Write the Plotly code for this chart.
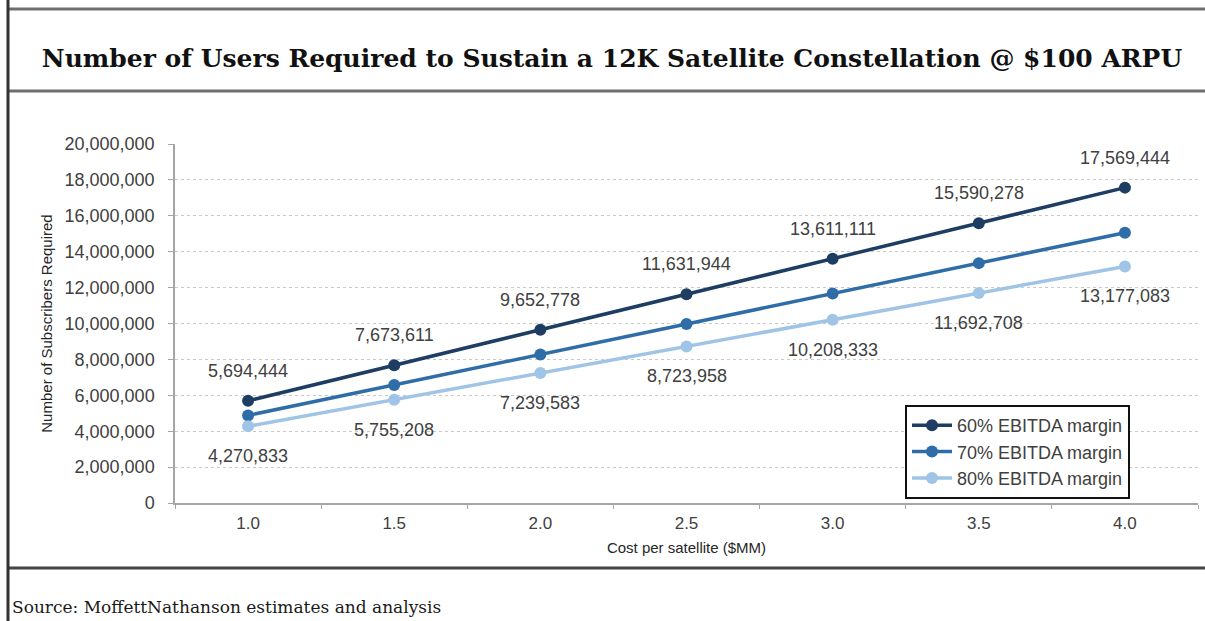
import plotly.graph_objects as go

categories = ["1.0", "1.5", "2.0", "2.5", "3.0", "3.5", "4.0"]
margin60 = [5694444, 7673611, 9652778, 11631944, 13611111, 15590278, 17569444]
margin70 = [4880952, 6577381, 8273810, 9970238, 11666667, 13363095, 15059524]
margin80 = [4270833, 5755208, 7239583, 8723958, 10208333, 11692708, 13177083]
series_names = ["60% EBITDA margin", "70% EBITDA margin", "80% EBITDA margin"]
y_ticks = [0, 2000000, 4000000, 6000000, 8000000, 10000000, 12000000, 14000000, 16000000, 18000000, 20000000]

colors = ["#1d3d63", "#2e6da7", "#9fc4e6"]
W, H = 1205, 621
L, R, T, B = 175, 7, 144, 118
pw, ph = W - L - R, H - T - B

def px(xp):
    return (xp - L) / pw

def py(yp):
    return 1 - (yp - T) / ph

fig = go.Figure()
for name, vals, c in zip(series_names, [margin60, margin70, margin80], colors):
    fig.add_trace(go.Scatter(
        x=categories, y=vals, name=name, mode="lines+markers",
        line=dict(color=c, width=3.5),
        marker=dict(color=c, size=12),
    ))

label_font = dict(family="Liberation Sans, Arial", size=18, color="#404040")
annotations = []
for i, v in enumerate(margin60):
    annotations.append(dict(x=i, y=v, xref="x", yref="y", text=f"{v:,}", showarrow=False,
                            yshift=30, font=label_font))
for i, v in enumerate(margin80):
    annotations.append(dict(x=i, y=v, xref="x", yref="y", text=f"{v:,}", showarrow=False,
                            yshift=-30, font=label_font))

annotations.append(dict(x=px(10), y=py(607), xref="paper", yref="paper", xanchor="left", yanchor="middle",
                        text="Source: MoffettNathanson estimates and analysis", showarrow=False,
                        font=dict(family="DejaVu Serif", size=17, color="#1a1a1a")))

line_col = "#6e6e6e"
shapes = [
    dict(type="line", xref="paper", yref="paper", x0=px(8), x1=px(W), y0=py(9), y1=py(9), line=dict(color=line_col, width=3)),
    dict(type="line", xref="paper", yref="paper", x0=px(8), x1=px(W), y0=py(91), y1=py(91), line=dict(color=line_col, width=3)),
    dict(type="line", xref="paper", yref="paper", x0=px(8), x1=px(W), y0=py(568), y1=py(568), line=dict(color="#444444", width=3)),
    dict(type="line", xref="paper", yref="paper", x0=px(8), x1=px(8), y0=py(0), y1=py(H), line=dict(color="#333333", width=3)),
]

fig.update_layout(
    width=W, height=H,
    margin=dict(l=L, r=R, t=T, b=B),
    paper_bgcolor="white", plot_bgcolor="white",
    title=dict(text="<b>Number of Users Required to Sustain a 12K Satellite Constellation @ $100 ARPU</b>",
               x=612 / W, xanchor="center", y=1 - 58 / H, yanchor="middle",
               font=dict(family="DejaVu Serif", size=25, color="#111111")),
    showlegend=True,
    legend=dict(x=px(905), y=py(405), xanchor="left", yanchor="top",
                bordercolor="#111111", borderwidth=2, bgcolor="white",
                font=dict(family="Liberation Sans, Arial", size=18, color="#404040"),
                tracegroupgap=0, itemwidth=40),
    annotations=annotations,
    shapes=shapes,
    xaxis=dict(type="category", range=[-0.5, 6.5], tickson="boundaries", ticks="outside", ticklen=4,
               tickcolor="#a6a6a6", showline=True, linecolor="#a6a6a6", linewidth=1.5, showgrid=False,
               ticklabelstandoff=4,
               tickfont=dict(family="Liberation Sans, Arial", size=17, color="#404040"),
               title=dict(text="Cost per satellite ($MM)", standoff=10,
                          font=dict(family="Liberation Sans, Arial", size=15, color="#262626"))),
    yaxis=dict(range=[0, 20000000], tickvals=y_ticks, tickformat=",d", ticks="outside", ticklen=5,
               tickcolor="#a6a6a6", showline=True, linecolor="#a6a6a6", linewidth=1.5,
               showgrid=True, gridcolor="#c8c8c8", griddash="3px,3px", gridwidth=1, zeroline=False,
               ticklabelstandoff=10,
               tickfont=dict(family="Liberation Sans, Arial", size=18, color="#404040"),
               title=dict(text="Number of Subscribers Required", standoff=8,
                          font=dict(family="Liberation Sans, Arial", size=15, color="#262626"))),
)

fig.write_html("out.html", config={"displayModeBar": False},
               post_script="document.body.style.margin='0';document.body.style.padding='0';")
